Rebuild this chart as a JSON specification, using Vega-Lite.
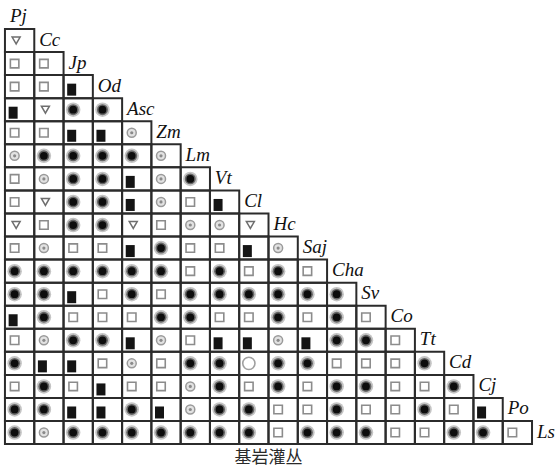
{
  "$schema": "https://vega.github.io/schema/vega-lite/v6.json",
  "width": 557,
  "height": 470,
  "autosize": {"type": "fit", "contains": "padding"},
  "padding": 0,
  "background": "white",
  "config": {"view": {"stroke": null}},
  "datasets": {
    "cells": [
      {"r":1,"c":0,"t":"T"},
      {"r":2,"c":0,"t":"S"},{"r":2,"c":1,"t":"S"},
      {"r":3,"c":0,"t":"S"},{"r":3,"c":1,"t":"S"},{"r":3,"c":2,"t":"B"},
      {"r":4,"c":0,"t":"B"},{"r":4,"c":1,"t":"T"},{"r":4,"c":2,"t":"D"},{"r":4,"c":3,"t":"D"},
      {"r":5,"c":0,"t":"S"},{"r":5,"c":1,"t":"S"},{"r":5,"c":2,"t":"B"},{"r":5,"c":3,"t":"B"},{"r":5,"c":4,"t":"G"},
      {"r":6,"c":0,"t":"G"},{"r":6,"c":1,"t":"D"},{"r":6,"c":2,"t":"D"},{"r":6,"c":3,"t":"D"},{"r":6,"c":4,"t":"D"},{"r":6,"c":5,"t":"G"},
      {"r":7,"c":0,"t":"S"},{"r":7,"c":1,"t":"G"},{"r":7,"c":2,"t":"D"},{"r":7,"c":3,"t":"D"},{"r":7,"c":4,"t":"B"},{"r":7,"c":5,"t":"G"},{"r":7,"c":6,"t":"D"},
      {"r":8,"c":0,"t":"S"},{"r":8,"c":1,"t":"T"},{"r":8,"c":2,"t":"D"},{"r":8,"c":3,"t":"D"},{"r":8,"c":4,"t":"B"},{"r":8,"c":5,"t":"G"},{"r":8,"c":6,"t":"S"},{"r":8,"c":7,"t":"B"},
      {"r":9,"c":0,"t":"T"},{"r":9,"c":1,"t":"S"},{"r":9,"c":2,"t":"D"},{"r":9,"c":3,"t":"D"},{"r":9,"c":4,"t":"T"},{"r":9,"c":5,"t":"S"},{"r":9,"c":6,"t":"G"},{"r":9,"c":7,"t":"G"},{"r":9,"c":8,"t":"T"},
      {"r":10,"c":0,"t":"S"},{"r":10,"c":1,"t":"G"},{"r":10,"c":2,"t":"S"},{"r":10,"c":3,"t":"S"},{"r":10,"c":4,"t":"B"},{"r":10,"c":5,"t":"D"},{"r":10,"c":6,"t":"S"},{"r":10,"c":7,"t":"S"},{"r":10,"c":8,"t":"B"},{"r":10,"c":9,"t":"G"},
      {"r":11,"c":0,"t":"D"},{"r":11,"c":1,"t":"D"},{"r":11,"c":2,"t":"D"},{"r":11,"c":3,"t":"D"},{"r":11,"c":4,"t":"D"},{"r":11,"c":5,"t":"D"},{"r":11,"c":6,"t":"S"},{"r":11,"c":7,"t":"D"},{"r":11,"c":8,"t":"S"},{"r":11,"c":9,"t":"D"},{"r":11,"c":10,"t":"S"},
      {"r":12,"c":0,"t":"D"},{"r":12,"c":1,"t":"D"},{"r":12,"c":2,"t":"B"},{"r":12,"c":3,"t":"S"},{"r":12,"c":4,"t":"D"},{"r":12,"c":5,"t":"S"},{"r":12,"c":6,"t":"D"},{"r":12,"c":7,"t":"D"},{"r":12,"c":8,"t":"D"},{"r":12,"c":9,"t":"D"},{"r":12,"c":10,"t":"D"},{"r":12,"c":11,"t":"D"},
      {"r":13,"c":0,"t":"B"},{"r":13,"c":1,"t":"D"},{"r":13,"c":2,"t":"S"},{"r":13,"c":3,"t":"S"},{"r":13,"c":4,"t":"S"},{"r":13,"c":5,"t":"D"},{"r":13,"c":6,"t":"D"},{"r":13,"c":7,"t":"S"},{"r":13,"c":8,"t":"S"},{"r":13,"c":9,"t":"D"},{"r":13,"c":10,"t":"S"},{"r":13,"c":11,"t":"D"},{"r":13,"c":12,"t":"S"},
      {"r":14,"c":0,"t":"S"},{"r":14,"c":1,"t":"G"},{"r":14,"c":2,"t":"D"},{"r":14,"c":3,"t":"D"},{"r":14,"c":4,"t":"B"},{"r":14,"c":5,"t":"G"},{"r":14,"c":6,"t":"S"},{"r":14,"c":7,"t":"B"},{"r":14,"c":8,"t":"B"},{"r":14,"c":9,"t":"G"},{"r":14,"c":10,"t":"B"},{"r":14,"c":11,"t":"D"},{"r":14,"c":12,"t":"D"},{"r":14,"c":13,"t":"S"},
      {"r":15,"c":0,"t":"D"},{"r":15,"c":1,"t":"B"},{"r":15,"c":2,"t":"B"},{"r":15,"c":3,"t":"S"},{"r":15,"c":4,"t":"G"},{"r":15,"c":5,"t":"S"},{"r":15,"c":6,"t":"D"},{"r":15,"c":7,"t":"D"},{"r":15,"c":8,"t":"O"},{"r":15,"c":9,"t":"D"},{"r":15,"c":10,"t":"D"},{"r":15,"c":11,"t":"S"},{"r":15,"c":12,"t":"S"},{"r":15,"c":13,"t":"S"},{"r":15,"c":14,"t":"D"},
      {"r":16,"c":0,"t":"S"},{"r":16,"c":1,"t":"D"},{"r":16,"c":2,"t":"S"},{"r":16,"c":3,"t":"B"},{"r":16,"c":4,"t":"S"},{"r":16,"c":5,"t":"S"},{"r":16,"c":6,"t":"G"},{"r":16,"c":7,"t":"D"},{"r":16,"c":8,"t":"S"},{"r":16,"c":9,"t":"D"},{"r":16,"c":10,"t":"S"},{"r":16,"c":11,"t":"D"},{"r":16,"c":12,"t":"D"},{"r":16,"c":13,"t":"S"},{"r":16,"c":14,"t":"S"},{"r":16,"c":15,"t":"D"},
      {"r":17,"c":0,"t":"D"},{"r":17,"c":1,"t":"D"},{"r":17,"c":2,"t":"B"},{"r":17,"c":3,"t":"B"},{"r":17,"c":4,"t":"D"},{"r":17,"c":5,"t":"B"},{"r":17,"c":6,"t":"G"},{"r":17,"c":7,"t":"D"},{"r":17,"c":8,"t":"D"},{"r":17,"c":9,"t":"S"},{"r":17,"c":10,"t":"S"},{"r":17,"c":11,"t":"D"},{"r":17,"c":12,"t":"S"},{"r":17,"c":13,"t":"S"},{"r":17,"c":14,"t":"D"},{"r":17,"c":15,"t":"S"},{"r":17,"c":16,"t":"B"},
      {"r":18,"c":0,"t":"D"},{"r":18,"c":1,"t":"G"},{"r":18,"c":2,"t":"D"},{"r":18,"c":3,"t":"D"},{"r":18,"c":4,"t":"D"},{"r":18,"c":5,"t":"D"},{"r":18,"c":6,"t":"D"},{"r":18,"c":7,"t":"D"},{"r":18,"c":8,"t":"D"},{"r":18,"c":9,"t":"S"},{"r":18,"c":10,"t":"D"},{"r":18,"c":11,"t":"D"},{"r":18,"c":12,"t":"D"},{"r":18,"c":13,"t":"S"},{"r":18,"c":14,"t":"S"},{"r":18,"c":15,"t":"D"},{"r":18,"c":16,"t":"D"},{"r":18,"c":17,"t":"S"}
    ],
    "species": [
      {"r":0,"c":0,"name":"Pj"},{"r":1,"c":1,"name":"Cc"},{"r":2,"c":2,"name":"Jp"},{"r":3,"c":3,"name":"Od"},
      {"r":4,"c":4,"name":"Asc"},{"r":5,"c":5,"name":"Zm"},{"r":6,"c":6,"name":"Lm"},{"r":7,"c":7,"name":"Vt"},
      {"r":8,"c":8,"name":"Cl"},{"r":9,"c":9,"name":"Hc"},{"r":10,"c":10,"name":"Saj"},{"r":11,"c":11,"name":"Cha"},
      {"r":12,"c":12,"name":"Sv"},{"r":13,"c":13,"name":"Co"},{"r":14,"c":14,"name":"Tt"},{"r":15,"c":15,"name":"Cd"},
      {"r":16,"c":16,"name":"Cj"},{"r":17,"c":17,"name":"Po"},{"r":18,"c":18,"name":"Ls"}
    ],
    "caption": [
      {"label": "基岩灌丛"}
    ]
  },
  "layer": [
    {
      "encoding": {
        "x": {"field": "c", "type": "quantitative", "axis": null,
              "scale": {"domain": [-0.636, 18.354], "nice": false, "zero": false}},
        "y": {"field": "r", "type": "quantitative", "axis": null,
              "scale": {"domain": [-0.7576, 19.624], "nice": false, "zero": false, "reverse": true}}
      },
      "layer": [
        {
          "data": {"name": "cells"},
          "mark": {"type": "point", "shape": "M-1,-0.7863H1V0.7863H-1Z", "size": 860.3,
                   "filled": false, "stroke": "#2b2b2b", "strokeWidth": 2, "opacity": 1}
        },
        {
          "data": {"name": "cells"},
          "transform": [{"filter": "datum.t === 'S'"}],
          "mark": {"type": "point", "shape": "square", "size": 72, "filled": false,
                   "stroke": "#8c8c8c", "strokeWidth": 1.6, "opacity": 1, "xOffset": -5}
        },
        {
          "data": {"name": "cells"},
          "transform": [{"filter": "datum.t === 'T'"}],
          "mark": {"type": "point", "shape": "triangle-down", "size": 64, "filled": false,
                   "stroke": "#6e6e6e", "strokeWidth": 1.5, "opacity": 1, "xOffset": -3.5}
        },
        {
          "data": {"name": "cells"},
          "transform": [{"filter": "datum.t === 'B'"}],
          "mark": {"type": "point", "shape": "M-0.75,-1H0.75V1H-0.75Z", "size": 144,
                   "filled": true, "fill": "#141414", "stroke": null, "opacity": 1,
                   "xOffset": -6.5, "yOffset": 3}
        },
        {
          "data": {"name": "cells"},
          "transform": [{"filter": "datum.t === 'D'"}],
          "mark": {"type": "point", "shape": "circle", "size": 210, "filled": true,
                   "fill": "#c4c4c4", "stroke": null, "opacity": 1, "xOffset": -5}
        },
        {
          "data": {"name": "cells"},
          "transform": [{"filter": "datum.t === 'D'"}],
          "mark": {"type": "point", "shape": "circle", "size": 120, "filled": true,
                   "fill": "#666", "stroke": null, "opacity": 1, "xOffset": -5}
        },
        {
          "data": {"name": "cells"},
          "transform": [{"filter": "datum.t === 'D'"}],
          "mark": {"type": "point", "shape": "circle", "size": 60, "filled": true,
                   "fill": "#0d0d0d", "stroke": null, "opacity": 1, "xOffset": -5}
        },
        {
          "data": {"name": "cells"},
          "transform": [{"filter": "datum.t === 'G'"}],
          "mark": {"type": "point", "shape": "circle", "size": 81, "filled": true,
                   "fill": "#e2e2e2", "stroke": "#9a9a9a", "strokeWidth": 1.5, "opacity": 1, "xOffset": -5}
        },
        {
          "data": {"name": "cells"},
          "transform": [{"filter": "datum.t === 'G'"}],
          "mark": {"type": "point", "shape": "circle", "size": 10, "filled": true,
                   "fill": "#8a8a8a", "stroke": null, "opacity": 1, "xOffset": -5}
        },
        {
          "data": {"name": "cells"},
          "transform": [{"filter": "datum.t === 'O'"}],
          "mark": {"type": "point", "shape": "circle", "size": 150, "filled": false,
                   "stroke": "#a0a0a0", "strokeWidth": 1.6, "opacity": 1, "xOffset": -5}
        },
        {
          "data": {"name": "species"},
          "mark": {"type": "text", "align": "left", "baseline": "alphabetic", "dx": -9.7, "dy": 5,
                   "font": "Liberation Serif", "fontStyle": "italic", "fontSize": 19, "color": "#111"},
          "encoding": {"text": {"field": "name"}}
        }
      ]
    },
    {
      "data": {"name": "caption"},
      "mark": {"type": "text", "align": "center", "baseline": "middle",
               "font": "Noto Sans CJK SC", "fontSize": 17, "color": "#2a2a2a"},
      "encoding": {
        "x": {"datum": 8.5, "type": "quantitative", "axis": null},
        "y": {"datum": 19.1, "type": "quantitative", "axis": null},
        "text": {"field": "label", "type": "nominal"}
      }
    }
  ]
}
